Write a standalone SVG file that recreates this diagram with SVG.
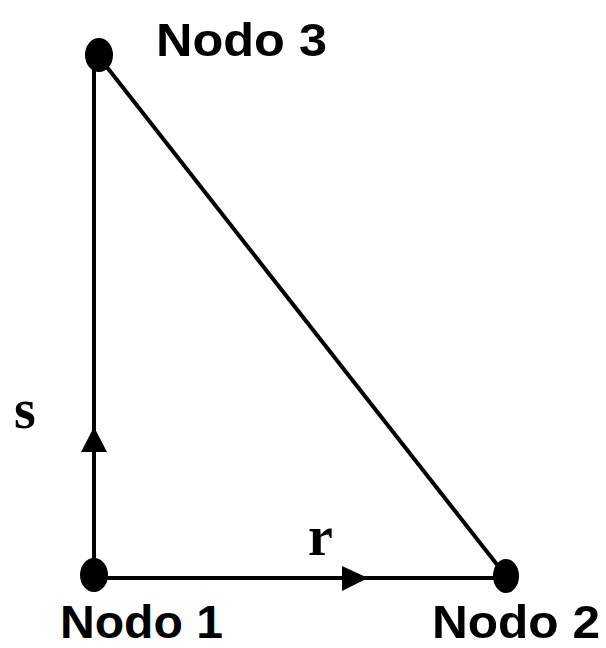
<svg xmlns="http://www.w3.org/2000/svg" width="606" height="648" viewBox="0 0 606 648">
<style>
.edge{stroke:#000;stroke-width:4;fill:none}
.dot{fill:#000}
.lbl{font-family:"Liberation Sans",Arial,sans-serif;font-weight:bold;font-size:47px;fill:#000}
.var{font-family:"Liberation Serif","Times New Roman",serif;font-weight:bold;font-size:56px;fill:#000}
.arr{fill:#000}
</style>
<rect width="606" height="648" fill="#fff"/>
<g id="connectors">
<line class="edge" x1="94" y1="55" x2="94" y2="577"/>
<line class="edge" x1="94" y1="578" x2="506" y2="578"/>
<line class="edge" x1="99" y1="57" x2="506" y2="576"/>
<polygon class="arr" points="94,427 81,452 107,452"/>
<polygon class="arr" points="368,578 342,566 342,591"/>
<text class="var" x="14" y="428">s</text>
<text class="var" x="308" y="555">r</text>
</g>
<g id="nodo1">
<ellipse class="dot" cx="94" cy="575" rx="14" ry="17"/>
<text class="lbl" x="60" y="638" textLength="163" lengthAdjust="spacingAndGlyphs">Nodo 1</text>
</g>
<g id="nodo2">
<ellipse class="dot" cx="506" cy="576" rx="13" ry="17"/>
<text class="lbl" x="432" y="638" textLength="168" lengthAdjust="spacingAndGlyphs">Nodo 2</text>
</g>
<g id="nodo3">
<ellipse class="dot" cx="99" cy="55" rx="14" ry="17"/>
<text class="lbl" x="156" y="56" textLength="171" lengthAdjust="spacingAndGlyphs">Nodo 3</text>
</g>
</svg>
